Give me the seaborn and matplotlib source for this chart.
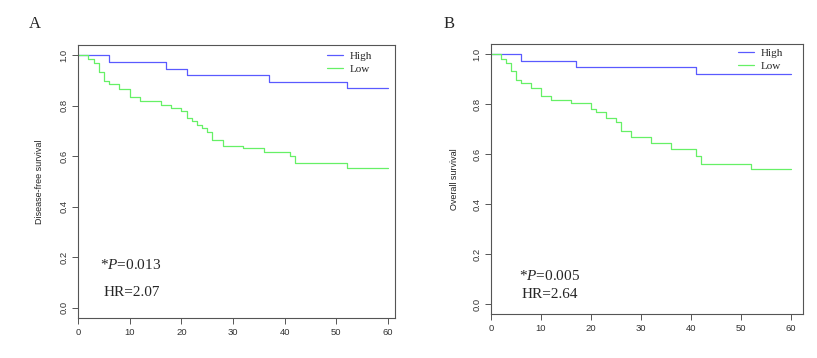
import pandas as pd
import matplotlib
matplotlib.use("Agg")
import matplotlib.pyplot as plt
import seaborn as sns

# Kaplan-Meier steps (months, survival probability)
dfs_high_t = [0, 6, 17, 21, 37, 52, 60]
dfs_high_s = [1.0, 0.974, 0.947, 0.921, 0.895, 0.868, 0.868]
dfs_low_t = [0, 2, 3, 4, 5, 6, 8, 10, 12, 16, 18, 20, 21, 22, 23, 24, 25, 26, 28,
             32, 36, 41, 42, 52, 60]
dfs_low_s = [1.0, 0.986, 0.967, 0.933, 0.898, 0.885, 0.867, 0.835, 0.817, 0.803,
             0.792, 0.777, 0.750, 0.740, 0.724, 0.712, 0.694, 0.665, 0.642, 0.631,
             0.617, 0.602, 0.573, 0.553, 0.553]

os_high_t = [0, 6, 17, 41, 60]
os_high_s = [1.0, 0.974, 0.947, 0.921, 0.921]
os_low_t = [0, 2, 3, 4, 5, 6, 8, 10, 12, 16, 20, 21, 23, 25, 26, 28, 32, 36, 41,
            42, 52, 60]
os_low_s = [1.0, 0.980, 0.965, 0.932, 0.898, 0.884, 0.866, 0.834, 0.815, 0.803,
            0.782, 0.767, 0.746, 0.730, 0.691, 0.667, 0.646, 0.620, 0.591, 0.562,
            0.542, 0.542]

groups = ["High", "Low"]
colors = {"High": "#5a5aff", "Low": "#66f066"}

panels = [
    ("A", "Disease-free survival", dfs_high_t, dfs_high_s, dfs_low_t, dfs_low_s,
     "0.013", "2.07"),
    ("B", "Overall survival", os_high_t, os_high_s, os_low_t, os_low_s,
     "0.005", "2.64"),
]

sns.set_style("ticks")
plt.rcParams["font.family"] = ["Liberation Sans", "DejaVu Sans"]
plt.rcParams["mathtext.fontset"] = "custom"
plt.rcParams["mathtext.rm"] = "Liberation Serif"
plt.rcParams["mathtext.it"] = "Liberation Serif:italic"

fig = plt.figure(figsize=(8.17, 3.58), dpi=100)
W, H = 817, 358

# axes boxes in pixels: left, top, right, bottom
boxes = [(78, 45, 395, 318), (491, 44, 803, 314)]
xmax = [61.35, 62.4]
letter_x = [35, 449]
ylab_x = [44, 459]
leg_pos = [(327, 51), (738, 48)]
txt_pos = [(100, 265, 104, 293), (519, 276, 522, 295)]

for i, (letter, ylab, ht, hs, lt, ls, p, hr) in enumerate(panels):
    l, t, r, b = boxes[i]
    ax = fig.add_axes([l / W, 1 - b / H, (r - l) / W, (b - t) / H])

    df = pd.concat([
        pd.DataFrame({"time": ht, "surv": hs, "group": "High"}),
        pd.DataFrame({"time": lt, "surv": ls, "group": "Low"}),
    ])
    for g in groups:
        sub = df[df["group"] == g]
        sns.lineplot(data=sub, x="time", y="surv", ax=ax, color=colors[g],
                     drawstyle="steps-post", lw=0.9, label=g, sort=False,
                     estimator=None)

    ax.set_xlim(0, xmax[i])
    ax.set_ylim(-0.04, 1.04)
    ax.set_xticks([0, 10, 20, 30, 40, 50, 60])
    ax.set_yticks([0.0, 0.2, 0.4, 0.6, 0.8, 1.0])
    ax.set_yticklabels(["0.0", "0.2", "0.4", "0.6", "0.8", "1.0"],
                       rotation=90, va="center")
    ax.tick_params(labelsize=6.8, colors="#555555", labelcolor="#333333",
                   length=4, width=0.7, pad=3)
    for sp in ax.spines.values():
        sp.set_visible(True)
        sp.set_color("#555555")
        sp.set_linewidth(0.8)
    ax.set_xlabel("")
    ax.set_ylabel(ylab, fontsize=6.5, color="#222222")
    ax.yaxis.set_label_coords((ylab_x[i] - l) / (r - l), 0.5)

    lx, ly = leg_pos[i]
    ax.legend(loc="upper left",
              bbox_to_anchor=((lx - l) / (r - l), (b - ly) / (b - t)),
              frameon=False, borderpad=0, borderaxespad=0, handlelength=1.4,
              handletextpad=0.6, labelspacing=0.3,
              prop={"family": "Liberation Serif", "size": 8})

    px, py, hx, hy = txt_pos[i]
    fig.text(px / W, 1 - py / H, r"*$\mathit{P}$=" + p, fontsize=11,
             family="Liberation Serif", va="center", ha="left")
    fig.text(hx / W, 1 - hy / H, "HR=" + hr, fontsize=11,
             family="Liberation Serif", va="center", ha="left")
    fig.text(letter_x[i] / W, 1 - 24 / H, letter, fontsize=12,
             family="Liberation Serif", va="center", ha="center")

fig.savefig("out.png", dpi=100)
